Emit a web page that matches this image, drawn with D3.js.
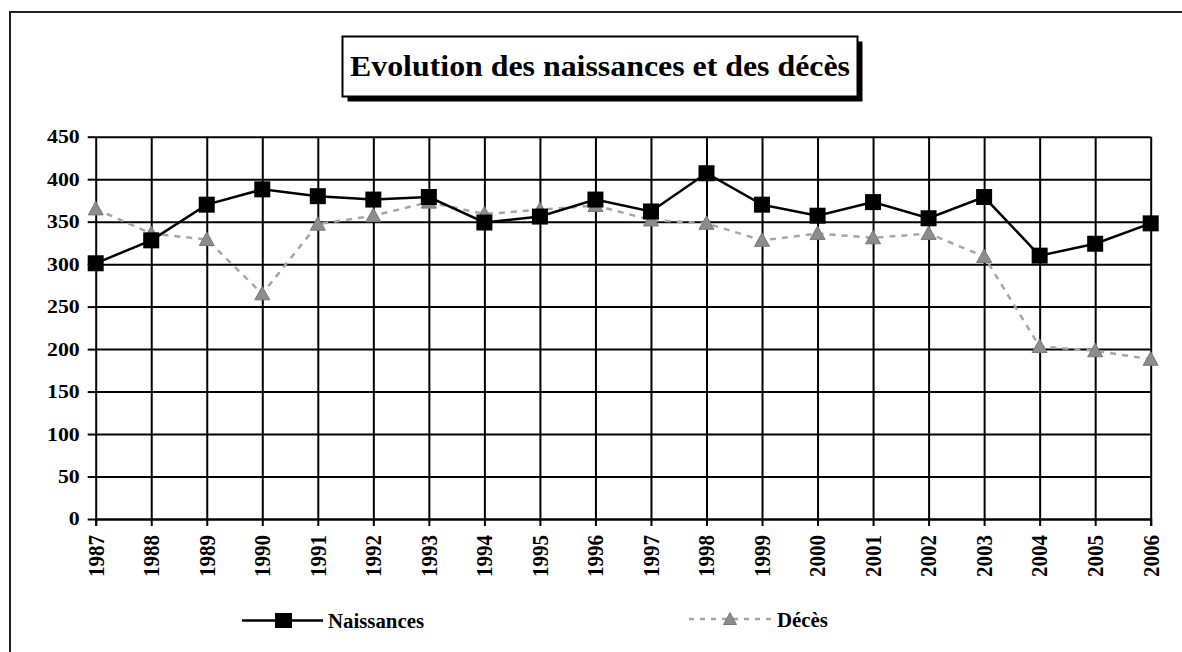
<!DOCTYPE html>
<html>
<head>
<meta charset="utf-8">
<script src="https://cdn.jsdelivr.net/npm/d3@7"></script>
<style>
  html, body { margin: 0; padding: 0; background: #fff; }
  svg text { font-family: "Liberation Serif", "Times New Roman", Tinos, serif; font-weight: bold; fill: #000; }
</style>
</head>
<body>
<div id="chart"></div>
<script>
const FRAME_HEIGHT = 652;
const FRAME_WIDTH = 1182;
const MARGINS = {left: 95.7, right: 31.3, top: 136.7, bottom: 133};

const VIS_HEIGHT = FRAME_HEIGHT - MARGINS.top - MARGINS.bottom;
const VIS_WIDTH = FRAME_WIDTH - MARGINS.left - MARGINS.right;

// data
const YEARS = ["1987", "1988", "1989", "1990", "1991", "1992", "1993", "1994", "1995", "1996",
               "1997", "1998", "1999", "2000", "2001", "2002", "2003", "2004", "2005", "2006"];
const NAISSANCES = [301, 328, 370, 388, 380, 376, 379, 349, 356, 376,
                    362, 407, 370, 357, 373, 354, 379, 310, 324, 348];
const DECES = [365, 336, 329, 265, 347, 357, 373, 359, 364, 369,
               352, 348, 328, 336, 331, 336, 309, 203, 198, 188];
const Y_TICKS = [0, 50, 100, 150, 200, 250, 300, 350, 400, 450];
const TITLE = "Evolution des naissances et des décès";
const SERIES_NAMES = ["Naissances", "Décès"];

const FONT = "'Liberation Serif', 'Times New Roman', serif";

const FRAME = d3.select("#chart")
                  .append("svg")
                    .attr("height", FRAME_HEIGHT)
                    .attr("width", FRAME_WIDTH)
                    .attr("font-family", FONT)
                    .attr("font-weight", "bold");

// outer border of the chart area
FRAME.append("rect")
    .attr("x", 10).attr("y", 12)
    .attr("width", 1300).attr("height", 800)
    .attr("fill", "none")
    .attr("stroke", "#222")
    .attr("stroke-width", 2);

// title box with shadow
FRAME.append("rect")
    .attr("x", 347.5).attr("y", 41.5)
    .attr("width", 515).attr("height", 60)
    .attr("fill", "#000");
FRAME.append("rect")
    .attr("x", 342.5).attr("y", 36.5)
    .attr("width", 515).attr("height", 60)
    .attr("fill", "#fff")
    .attr("stroke", "#000")
    .attr("stroke-width", 2);
FRAME.append("text")
    .attr("x", 600).attr("y", 76)
    .attr("text-anchor", "middle")
    .attr("font-size", "30px")
    .attr("textLength", 500)
    .attr("lengthAdjust", "spacingAndGlyphs")
    .text(TITLE);

// scales
const X_SCALE = d3.scalePoint()
                    .domain(YEARS)
                    .range([0, VIS_WIDTH]);
const Y_SCALE = d3.scaleLinear()
                    .domain([0, 450])
                    .range([VIS_HEIGHT, 0]);

const PLOT = FRAME.append("g")
    .attr("transform", "translate(" + MARGINS.left + "," + MARGINS.top + ")");

// horizontal grid + left ticks
PLOT.append("g")
    .call(d3.axisLeft(Y_SCALE).tickValues(Y_TICKS).tickSize(-VIS_WIDTH).tickFormat(""))
    .call(g => g.select(".domain").remove())
    .call(g => g.selectAll("line").attr("stroke", "#000").attr("stroke-width", 2));
PLOT.append("g")
    .call(d3.axisLeft(Y_SCALE).tickValues(Y_TICKS).tickSize(8).tickFormat(""))
    .call(g => g.select(".domain").remove())
    .call(g => g.selectAll("line").attr("stroke", "#000").attr("stroke-width", 2));

// y labels
PLOT.selectAll(".ylab")
    .data(Y_TICKS)
    .enter()
    .append("text")
      .attr("class", "ylab")
      .attr("x", -16)
      .attr("y", (d) => Y_SCALE(d) + 6.5)
      .attr("text-anchor", "end")
      .attr("font-size", "19px")
      .attr("textLength", (d) => String(d).length * 10.9)
      .attr("lengthAdjust", "spacingAndGlyphs")
      .text((d) => d);

// vertical grid + bottom ticks
PLOT.append("g")
    .attr("transform", "translate(0," + VIS_HEIGHT + ")")
    .call(d3.axisBottom(X_SCALE).tickSize(-VIS_HEIGHT).tickFormat(""))
    .call(g => g.select(".domain").remove())
    .call(g => g.selectAll("line").attr("stroke", "#000").attr("stroke-width", 2));
PLOT.append("g")
    .attr("transform", "translate(0," + VIS_HEIGHT + ")")
    .call(d3.axisBottom(X_SCALE).tickSize(7).tickFormat(""))
    .call(g => g.select(".domain").attr("stroke", "#000").attr("stroke-width", 2))
    .call(g => g.selectAll("line").attr("stroke", "#000").attr("stroke-width", 2));

// x labels, rotated
PLOT.selectAll(".xlab")
    .data(YEARS)
    .enter()
    .append("text")
      .attr("class", "xlab")
      .attr("transform", (d) => "translate(" + X_SCALE(d) + "," + (VIS_HEIGHT + 16) + ") rotate(-90)")
      .attr("dy", "0.34em")
      .attr("text-anchor", "end")
      .attr("font-size", "23px")
      .attr("textLength", 42)
      .attr("lengthAdjust", "spacingAndGlyphs")
      .text((d) => d);

// lines
const LINE = (vals) => d3.line()
    .x((d, i) => X_SCALE(YEARS[i]))
    .y((d) => Y_SCALE(d))(vals);

PLOT.append("path")
    .attr("d", LINE(DECES))
    .attr("fill", "none")
    .attr("stroke", "#a6a6a6")
    .attr("stroke-width", 2.5)
    .attr("stroke-dasharray", "6,6");

PLOT.append("path")
    .attr("d", LINE(NAISSANCES))
    .attr("fill", "none")
    .attr("stroke", "#000")
    .attr("stroke-width", 2.5);

const TRI = "M0,-7.5L7.5,6L-7.5,6Z";

PLOT.selectAll(".tri")
    .data(DECES)
    .enter()
    .append("path")
      .attr("class", "tri")
      .attr("d", TRI)
      .attr("transform", (d, i) => "translate(" + X_SCALE(YEARS[i]) + "," + Y_SCALE(d) + ")")
      .attr("fill", "#8c8c8c")
      .attr("stroke", "#7a7a7a")
      .attr("stroke-width", 1);

PLOT.selectAll(".sq")
    .data(NAISSANCES)
    .enter()
    .append("rect")
      .attr("class", "sq")
      .attr("x", (d, i) => X_SCALE(YEARS[i]) - 8)
      .attr("y", (d) => Y_SCALE(d) - 8)
      .attr("width", 16)
      .attr("height", 16)
      .attr("fill", "#000");

// legend
const LEG = FRAME.append("g");
LEG.append("line")
    .attr("x1", 242).attr("x2", 323).attr("y1", 620.5).attr("y2", 620.5)
    .attr("stroke", "#000").attr("stroke-width", 2.5);
LEG.append("rect")
    .attr("x", 275).attr("y", 613).attr("width", 17).attr("height", 15)
    .attr("fill", "#000");
LEG.append("text")
    .attr("x", 328).attr("y", 628)
    .attr("font-size", "20px")
    .attr("textLength", 96)
    .attr("lengthAdjust", "spacingAndGlyphs")
    .text(SERIES_NAMES[0]);

LEG.append("line")
    .attr("x1", 689).attr("x2", 772).attr("y1", 619).attr("y2", 619)
    .attr("stroke", "#a6a6a6").attr("stroke-width", 2.5)
    .attr("stroke-dasharray", "5,6");
LEG.append("path")
    .attr("d", "M0,-6.5L6.5,5.5L-6.5,5.5Z")
    .attr("transform", "translate(730,619)")
    .attr("fill", "#8c8c8c").attr("stroke", "#7a7a7a");
LEG.append("text")
    .attr("x", 777).attr("y", 627)
    .attr("font-size", "20px")
    .attr("textLength", 51)
    .attr("lengthAdjust", "spacingAndGlyphs")
    .text(SERIES_NAMES[1]);
</script>
</body>
</html>
